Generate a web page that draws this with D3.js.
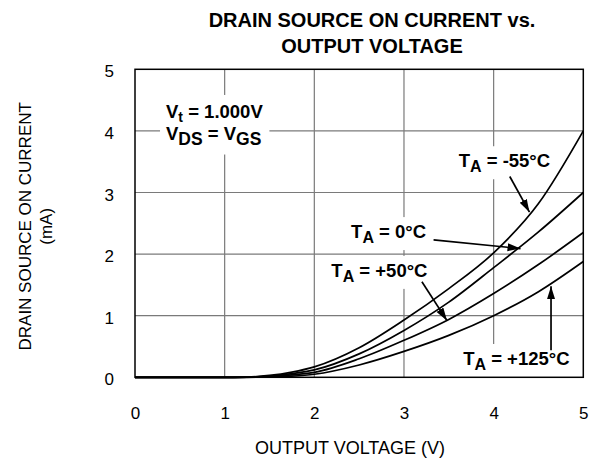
<!DOCTYPE html>
<html>
<head>
<meta charset="utf-8">
<script src="https://cdn.jsdelivr.net/npm/d3@7"></script>
<style>
  body { margin: 0; background: #fff; }
  svg { font-family: "Liberation Sans", Arial, Helvetica, sans-serif; }
</style>
</head>
<body>
<svg id="canvas"></svg>
<script>
const width = 600;
const height = 462;
const margin = { top: 69.3, right: 16.7, bottom: 84.7, left: 135 };

// output voltage (V) and drain current (mA) for each ambient temperature
const volts    = [0, 0.5, 1.0, 1.25, 1.5, 1.75, 2.0, 2.5, 3.0, 3.5, 4.0, 4.5, 5.0];
const iMinus55 = [0, 0, 0, 0.003, 0.03, 0.085, 0.17, 0.48, 0.93, 1.44, 2.02, 2.82, 4.0];
const iZero    = [0, 0, 0, 0.002, 0.02, 0.06, 0.12, 0.38, 0.76, 1.22, 1.78, 2.36, 3.0];
const iPlus50  = [0, 0, 0, 0.001, 0.012, 0.04, 0.08, 0.30, 0.60, 0.94, 1.36, 1.83, 2.35];
const iPlus125 = [0, 0, 0, 0, 0.006, 0.02, 0.05, 0.20, 0.42, 0.68, 1.0, 1.39, 1.88];

const xTicks = [0, 1, 2, 3, 4, 5];
const yTicks = [0, 1, 2, 3, 4, 5];

const series = [iMinus55, iZero, iPlus50, iPlus125];

// annotation text: [label, subscript, rest], position in data units
const tempLabels = [
  { t: "T", sub: "A", rest: " = -55°C", x: 3.61, y: 3.41, from: [4.18, 3.26], to: [4.40, 2.68] },
  { t: "T", sub: "A", rest: " = 0°C", x: 2.41, y: 2.26, from: [3.33, 2.23], to: [4.30, 2.09] },
  { t: "T", sub: "A", rest: " = +50°C", x: 2.19, y: 1.63, from: [3.20, 1.55], to: [3.48, 0.92] },
  { t: "T", sub: "A", rest: " = +125°C", x: 3.66, y: 0.20, from: [4.64, 0.44], to: [4.64, 1.48] }
];

const svg = d3.select("#canvas")
              .attr("width", width)
              .attr("height", height);

const xScale = d3.scaleLinear()
                 .domain([0, 5])
                 .range([margin.left, width - margin.right]);

const yScale = d3.scaleLinear()
                 .domain([0, 5])
                 .range([height - margin.bottom, margin.top]);

// title
svg.append("text")
   .attr("x", 372).attr("y", 27)
   .attr("text-anchor", "middle")
   .attr("font-weight", "bold").attr("font-size", 20)
   .text("DRAIN SOURCE ON CURRENT vs.");
svg.append("text")
   .attr("x", 372).attr("y", 53)
   .attr("text-anchor", "middle")
   .attr("font-weight", "bold").attr("font-size", 20)
   .text("OUTPUT VOLTAGE");

// grid
svg.append("g")
   .attr("class", "grid")
   .selectAll("line.v")
   .data(xTicks.slice(1, -1))
   .enter()
   .append("line")
   .attr("x1", d => xScale(d)).attr("x2", d => xScale(d))
   .attr("y1", yScale(0)).attr("y2", yScale(5))
   .attr("stroke", "#7a7a7a").attr("stroke-width", 1.2);

svg.select("g.grid")
   .selectAll("line.h")
   .data(yTicks.slice(1, -1))
   .enter()
   .append("line")
   .attr("x1", xScale(0)).attr("x2", xScale(5))
   .attr("y1", d => yScale(d)).attr("y2", d => yScale(d))
   .attr("stroke", "#7a7a7a").attr("stroke-width", 1.2);

// axes (labels only, frame drawn separately)
const xAxis = d3.axisBottom(xScale).tickValues(xTicks).tickFormat(d3.format("d"))
                .tickSize(0).tickPadding(30);
svg.append("g")
   .attr("id", "x-axis")
   .attr("transform", `translate(0, ${height - margin.bottom})`)
   .call(xAxis)
   .call(g => g.select(".domain").remove())
   .selectAll("text")
   .attr("font-size", 17).attr("font-family", null).attr("fill", "#000");

const yAxis = d3.axisLeft(yScale).tickValues(yTicks).tickFormat(d3.format("d"))
                .tickSize(0).tickPadding(21);
svg.append("g")
   .attr("id", "y-axis")
   .attr("transform", `translate(${margin.left}, 0)`)
   .call(yAxis)
   .call(g => g.select(".domain").remove())
   .selectAll("text")
   .attr("font-size", 17).attr("font-family", null).attr("fill", "#000")
   .attr("dy", "0.45em");

// axis titles
svg.append("text")
   .attr("x", 350).attr("y", 454)
   .attr("text-anchor", "middle")
   .attr("font-size", 18)
   .text("OUTPUT VOLTAGE (V)");

const yTitle = svg.append("text")
   .attr("transform", `translate(31, ${(yScale(0) + yScale(5)) / 2 + 3}) rotate(-90)`)
   .attr("text-anchor", "middle")
   .attr("font-size", 17);
yTitle.append("tspan").attr("x", 0).attr("dy", 0).text("DRAIN SOURCE ON CURRENT");
yTitle.append("tspan").attr("x", 0).attr("dy", 21).text("(mA)");

// annotation layer with white boxes that break the grid
const notes = svg.append("g").attr("font-weight", "bold").attr("font-size", 18.5);

function boxed(g, pad) {
  const b = g.node().getBBox();
  g.insert("rect", ":first-child")
   .attr("x", b.x - pad).attr("y", b.y - pad)
   .attr("width", b.width + 2 * pad).attr("height", b.height + 2 * pad)
   .attr("fill", "#fff");
}

const vt = notes.append("g");
const vt1 = vt.append("text").attr("x", xScale(0.346)).attr("y", yScale(4.21));
vt1.append("tspan").text("V");
vt1.append("tspan").attr("font-size", 14).attr("dy", 4).text("t");
vt1.append("tspan").attr("dy", -4).text(" = 1.000V");
const vt2 = vt.append("text").attr("x", xScale(0.346)).attr("y", yScale(3.86));
vt2.append("tspan").text("V");
vt2.append("tspan").attr("font-size", 17.5).attr("dy", 5).text("DS");
vt2.append("tspan").attr("dy", -5).text(" = V");
vt2.append("tspan").attr("font-size", 17.5).attr("dy", 5).text("GS");
boxed(vt, 6);

tempLabels.forEach(d => {
  const g = notes.append("g");
  const t = g.append("text").attr("x", xScale(d.x)).attr("y", yScale(d.y));
  t.append("tspan").text(d.t);
  t.append("tspan").attr("font-size", 16).attr("dy", 5).text(d.sub);
  t.append("tspan").attr("dy", -5).text(d.rest);
  boxed(g, 4);
});

// frame
svg.append("rect")
   .attr("x", xScale(0)).attr("y", yScale(5))
   .attr("width", xScale(5) - xScale(0))
   .attr("height", yScale(0) - yScale(5))
   .attr("fill", "none").attr("stroke", "#000").attr("stroke-width", 1.5);

// curves
const line = d3.line()
               .x((d, i) => xScale(volts[i]))
               .y(d => yScale(d))
               .curve(d3.curveMonotoneX);

svg.selectAll("path.curve")
   .data(series)
   .enter()
   .append("path")
   .attr("class", "curve")
   .attr("d", line)
   .attr("fill", "none")
   .attr("stroke", "#000")
   .attr("stroke-width", 1.7);

// arrows
svg.append("defs").append("marker")
   .attr("id", "head")
   .attr("markerUnits", "userSpaceOnUse")
   .attr("markerWidth", 14).attr("markerHeight", 10)
   .attr("refX", 13).attr("refY", 4)
   .attr("orient", "auto")
   .append("path")
   .attr("d", "M0,0 L13,4 L0,8 Z")
   .attr("fill", "#000");

svg.selectAll("line.arrow")
   .data(tempLabels)
   .enter()
   .append("line")
   .attr("class", "arrow")
   .attr("x1", d => xScale(d.from[0])).attr("y1", d => yScale(d.from[1]))
   .attr("x2", d => xScale(d.to[0])).attr("y2", d => yScale(d.to[1]))
   .attr("stroke", "#000").attr("stroke-width", 1.7)
   .attr("marker-end", "url(#head)");
</script>
</body>
</html>
